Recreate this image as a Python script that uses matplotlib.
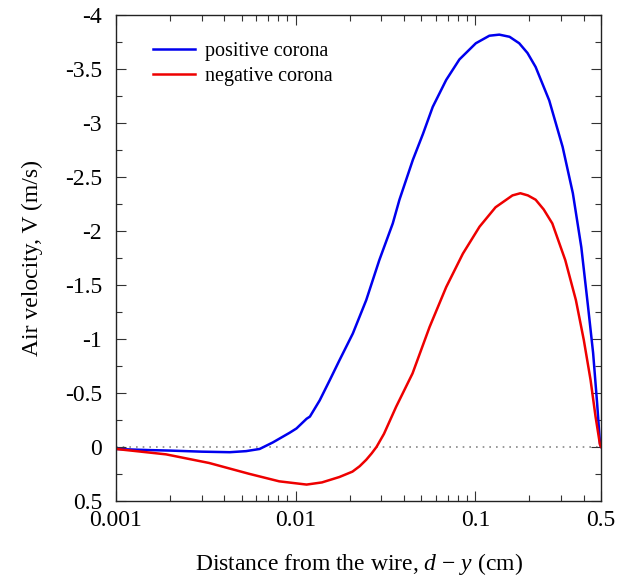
import matplotlib
matplotlib.use('Agg')
import matplotlib.pyplot as plt
from matplotlib.ticker import FixedLocator, FixedFormatter, LogLocator, NullFormatter, MultipleLocator

plt.rcParams['font.family'] = 'Liberation Serif'
plt.rcParams['mathtext.fontset'] = 'custom'
plt.rcParams['mathtext.rm'] = 'Liberation Serif'
plt.rcParams['mathtext.it'] = 'Liberation Serif:italic'

# positive corona (distance in cm, velocity in m/s)
pos_x = [0.001, 0.0015, 0.002, 0.003, 0.0043, 0.0053, 0.0063, 0.00745, 0.00925, 0.0101,
         0.0115, 0.012, 0.0136, 0.0155, 0.0175, 0.0208, 0.0247, 0.0292, 0.0347, 0.0378,
         0.0449, 0.0511, 0.0579, 0.0688, 0.0815, 0.1006, 0.1197, 0.1359, 0.155, 0.1754,
         0.195, 0.2165, 0.2577, 0.3059, 0.3488, 0.3887, 0.4237, 0.4522, 0.4762, 0.4938, 0.5]
pos_v = [0.02, 0.03, 0.035, 0.045, 0.05, 0.04, 0.02, -0.04, -0.13, -0.17,
         -0.26, -0.28, -0.43, -0.62, -0.80, -1.05, -1.36, -1.73, -2.07, -2.29,
         -2.66, -2.90, -3.15, -3.40, -3.59, -3.74, -3.81, -3.82, -3.80, -3.74,
         -3.65, -3.52, -3.21, -2.78, -2.35, -1.85, -1.30, -0.87, -0.40, -0.03, 0.0]

# negative corona
neg_x = [0.001, 0.0019, 0.0033, 0.0055, 0.0081, 0.0115, 0.0140, 0.0175, 0.0207, 0.0227,
         0.0247, 0.0265, 0.0282, 0.031, 0.0362, 0.0447, 0.0556, 0.0688, 0.0852, 0.1055,
         0.1295, 0.1609, 0.178, 0.196, 0.2165, 0.24, 0.2681, 0.3165, 0.3626, 0.4013,
         0.4376, 0.4665, 0.4938, 0.5]
neg_v = [0.02, 0.07, 0.15, 0.25, 0.32, 0.35, 0.33, 0.28, 0.23, 0.18,
         0.12, 0.06, 0.0, -0.12, -0.37, -0.68, -1.11, -1.48, -1.79, -2.04,
         -2.22, -2.33, -2.35, -2.33, -2.29, -2.20, -2.07, -1.73, -1.36, -0.99,
         -0.62, -0.28, -0.02, 0.0]

x_ticks = [0.001, 0.01, 0.1, 0.5]
x_labels = ['0.001', '0.01', '0.1', '0.5']
y_ticks = [-4, -3.5, -3, -2.5, -2, -1.5, -1, -0.5, 0, 0.5]
y_labels = ['-4', '-3.5', '-3', '-2.5', '-2', '-1.5', '-1', '-0.5', '0', '0.5']

fig = plt.figure(figsize=(6.17, 5.85), dpi=100)
ax = fig.add_axes([0.188, 0.144, 0.786, 0.830])

ax.axhline(0, color='#888888', linestyle=(0, (1, 3)), linewidth=1.2, zorder=1)
ax.plot(pos_x, pos_v, color='#0000ee', linewidth=1.8, label='positive corona')
ax.plot(neg_x, neg_v, color='#ee0000', linewidth=1.8, label='negative corona')

ax.set_xscale('log')
ax.set_xlim(0.001, 0.5)
ax.set_ylim(0.5, -4)

ax.xaxis.set_major_locator(FixedLocator(x_ticks))
ax.xaxis.set_major_formatter(FixedFormatter(x_labels))
ax.xaxis.set_minor_locator(LogLocator(base=10, subs=range(2, 10)))
ax.xaxis.set_minor_formatter(NullFormatter())
ax.yaxis.set_major_locator(FixedLocator(y_ticks))
ax.yaxis.set_major_formatter(FixedFormatter(y_labels))
ax.yaxis.set_minor_locator(MultipleLocator(0.25))

ax.tick_params(which='both', direction='in', top=True, right=True, labelsize=17, color='#333333')
ax.tick_params(which='major', length=7, width=0.8)
ax.tick_params(which='minor', length=4, width=0.8)
ax.tick_params(axis='y', which='major', pad=10)
ax.tick_params(axis='x', which='major', pad=7)
for s in ax.spines.values():
    s.set_linewidth(1.0)
    s.set_color('#222222')

ax.set_xlabel('Distance from the wire, $d$ − $y$ (cm)', fontsize=17, labelpad=14)
ax.set_ylabel('Air velocity, V (m/s)', fontsize=17, labelpad=16)

ax.legend(loc='upper left', bbox_to_anchor=(0.076, 0.945), frameon=False, fontsize=14.5,
          handlelength=2.1, handletextpad=0.5, labelspacing=0.28,
          borderpad=0, borderaxespad=0)

fig.savefig('out.png', dpi=100)
